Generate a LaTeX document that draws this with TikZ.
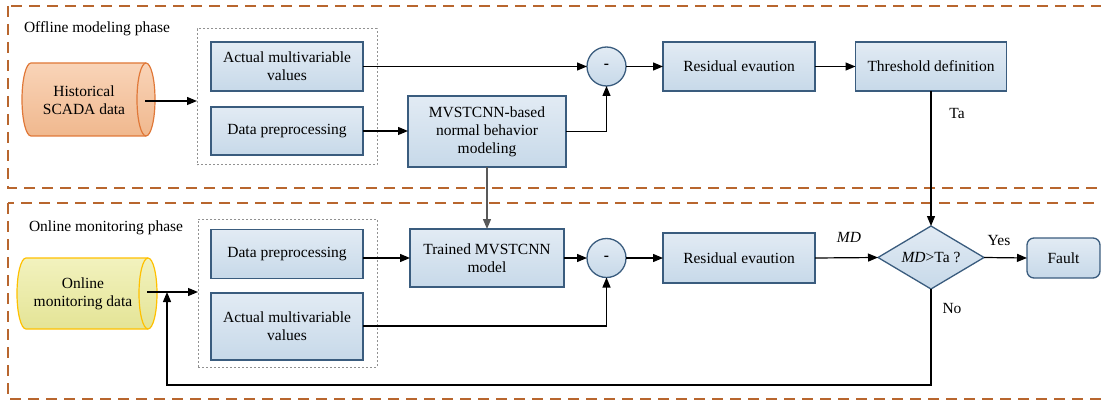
\documentclass[tikz,border=0pt]{standalone}
\usepackage{fontspec}
\setmainfont{Liberation Serif}
\usetikzlibrary{arrows.meta,shapes.geometric,calc}
\definecolor{boxtop}{RGB}{226,235,244}
\definecolor{boxbot}{RGB}{199,217,233}
\definecolor{boxline}{RGB}{58,92,126}
\definecolor{histtop}{RGB}{249,212,184}
\definecolor{histbot}{RGB}{240,184,142}
\definecolor{histline}{RGB}{224,120,56}
\definecolor{onltop}{RGB}{242,242,190}
\definecolor{onlbot}{RGB}{228,228,150}
\definecolor{onlline}{RGB}{255,192,0}
\definecolor{phasecol}{RGB}{184,102,46}
\definecolor{grpcol}{RGB}{145,145,145}
\definecolor{linkgray}{RGB}{89,89,89}
\begin{document}
\begin{tikzpicture}[x=1pt,y=-1pt,
  every node/.style={font=\fontsize{15.5}{18}\selectfont, inner sep=0pt, outer sep=0pt},
  blk/.style={draw=boxline, line width=1.3pt, top color=boxtop, bottom color=boxbot,
    minimum width=152pt, minimum height=49pt, align=center},
  minus/.style={circle, draw=boxline, line width=1.3pt, top color=boxtop, bottom color=boxbot,
    minimum size=39pt, font=\fontsize{15.5}{18}\selectfont\bfseries},
  dec/.style={diamond, draw=boxline, line width=1.3pt, top color=boxtop, bottom color=boxbot,
    minimum width=106pt, minimum height=63pt, aspect=1.68},
  endbox/.style={draw=boxline, line width=1.3pt, top color=boxtop, bottom color=boxbot,
    rounded corners=7pt, minimum width=73pt, minimum height=40pt},
  grp/.style={draw=grpcol, line width=1pt, dash pattern=on 2pt off 2pt},
  phase/.style={draw=phasecol, line width=1.4pt, dash pattern=on 11pt off 7pt},
  arr/.style={draw=black, line width=1.2pt, -{Triangle[length=10pt,width=8pt]}},
  garr/.style={draw=linkgray, line width=1.3pt, -{Triangle[length=10pt,width=8pt]}},
  lbl/.style={align=center}
]
\useasboundingbox (0,0) rectangle (1101,401);
\clip (0,0) rectangle (1101,401);

% phase frames
\draw[phase] (8,6) rectangle (1120,188);
\draw[phase] (8,203) rectangle (1120,399);
\node[anchor=west] (offl) at (24,29) {Offline modeling phase};
\node[anchor=west] (onll) at (29,228) {Online monitoring phase};

% group boxes
\node[grp, minimum width=180pt, minimum height=136pt] (grp1) at (287,97) {};
\node[grp, minimum width=179pt, minimum height=148pt] (grp2) at (287.5,293) {};

% historical cylinder
\shade[top color=histtop, bottom color=histbot, draw=histline, line width=1.2pt]
  (31,63) -- (146,63) arc[start angle=-90, end angle=90, x radius=9, y radius=36.5]
  -- (31,136) arc[start angle=90, end angle=270, x radius=9, y radius=36.5] -- cycle;
\draw[histline, line width=1.2pt] (146,63) arc[start angle=-90, end angle=-270, x radius=9, y radius=36.5];
\node[lbl] (hist) at (84,100) {Historical\\SCADA data};
\coordinate (histout) at (145,101);

% online cylinder
\shade[top color=onltop, bottom color=onlbot, draw=onlline, line width=1.2pt]
  (26,258) -- (148,258) arc[start angle=-90, end angle=90, x radius=9, y radius=35.5]
  -- (26,329) arc[start angle=90, end angle=270, x radius=9, y radius=35.5] -- cycle;
\draw[onlline, line width=1.2pt] (148,258) arc[start angle=-90, end angle=-270, x radius=9, y radius=35.5];
\node[lbl] (onl) at (83,294) {Online\\monitoring data};
\coordinate (onlout) at (147,292);

% top row
\node[blk] (topAct) at (287,66.5) {Actual multivariable\\values};
\node[blk, minimum height=48pt] (topPre) at (287,131) {Data preprocessing};
\node[blk, minimum width=158pt, minimum height=71pt] (mvs) at (487,131.5) {MVSTCNN-based\\normal behavior\\modeling};
\node[minus] (c1) at (606.5,66.5) {-};
\node[blk] (res1) at (739,66.5) {Residual evaution};
\node[blk, minimum width=151pt] (thr) at (931,66.5) {Threshold definition};

% bottom row
\node[blk] (botPre) at (287,254) {Data preprocessing};
\node[blk, minimum height=67pt] (botAct) at (287,326.5) {Actual multivariable\\values};
\node[blk, minimum width=154pt, minimum height=58pt] (trained) at (487,258) {Trained MVSTCNN\\model};
\node[minus] (c2) at (606.5,258) {-};
\node[blk, minimum height=50pt] (res2) at (739,258) {Residual evaution};
\node[dec] (dia) at (931,257.5) {\textit{MD}>Ta ?};
\node[endbox] (fault) at (1063.5,258) {Fault};

% labels
\node (ta) at (957,114) {Ta};
\node (md) at (849,237) {\textit{MD}};
\node (yes) at (999,241) {Yes};
\node (no) at (952,308) {No};

% top connectors
\draw[arr] (histout) -- (histout -| grp1.west);
\draw[arr] (topAct.east) -- (c1.west);
\draw[arr] (topPre.east) -- (topPre.east -| mvs.west);
\draw[arr] (mvs.east) -| (c1.south);
\draw[arr] (c1.east) -- (res1.west);
\draw[arr] (res1.east) -- (thr.west);
\draw[arr] (thr.south) -- (dia.north);
\draw[garr] (mvs.south) -- (trained.north);

% bottom connectors
\coordinate (join) at (167,292);
\coordinate (loop) at (167,385);
\draw[arr] (onlout) -- (onlout -| grp2.west);
\draw[arr] (botPre.east |- trained.west) -- (trained.west);
\draw[arr] (trained.east) -- (c2.west);
\draw[arr] (c2.east) -- (res2.west);
\draw[arr] (res2.east) -- (dia.west);
\draw[arr] (dia.east) -- (fault.west);
\draw[arr] (botAct.east |- 0,326) -| (c2.south);
\draw[arr] (dia.south) |- (loop) -- (join);
\end{tikzpicture}
\end{document}
